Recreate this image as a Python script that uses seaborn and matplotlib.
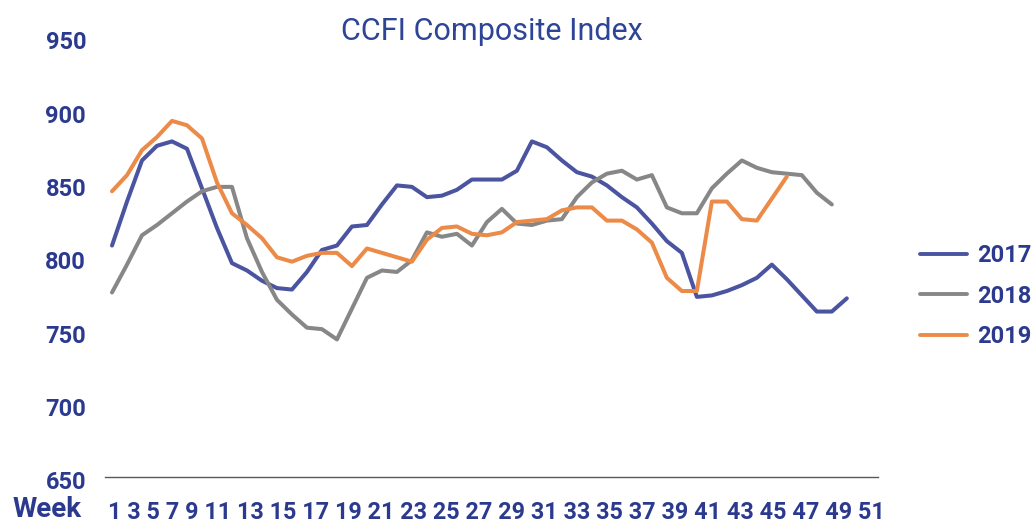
import numpy as np
import pandas as pd
import matplotlib
matplotlib.use('Agg')
import matplotlib.pyplot as plt
import matplotlib.transforms as mtransforms
import seaborn as sns

# CCFI composite index by week
idx_2017 = [808, 838, 866, 876, 879, 874, 847, 820, 796, 791,
            784, 779, 778, 790, 805, 808, 821, 822, 836, 849,
            848, 841, 842, 846, 853, 853, 853, 859, 879, 875,
            866, 858, 855, 849, 841, 834, 823, 811, 803, 773,
            774, 777, 781, 786, 795, 785, 774, 763, 763, 772]
idx_2018 = [776, 795, 815, 822, 830, 838, 845, 848, 848, 813,
            790, 771, 761, 752, 751, 744, 765, 786, 791, 790,
            798, 817, 814, 816, 808, 824, 833, 823, 822, 825,
            826, 841, 851, 857, 859, 853, 856, 834, 830, 830,
            847, 857, 866, 861, 858, 857, 856, 844, 836]
idx_2019 = [845, 856, 873, 882, 893, 890, 881, 851, 830, 822,
            813, 800, 797, 801, 803, 803, 794, 806, 803, 800,
            797, 812, 820, 821, 816, 815, 817, 824, 825, 826,
            832, 834, 834, 825, 825, 819, 810, 786, 777, 777,
            838, 838, 826, 825, 840, 855]

years = ['2017', '2018', '2019']
series = [idx_2017, idx_2018, idx_2019]
colors = ['#4A54A0', '#878787', '#EC8A48']
week_labels = list(range(1, 52, 2))
y_ticks = list(range(650, 951, 50))

TEXT_BLUE = '#2B3A8E'

frames = []
for yr, vals in zip(years, series):
    frames.append(pd.DataFrame({'week': np.arange(1, len(vals) + 1),
                                'index': vals, 'year': yr}))
df = pd.concat(frames, ignore_index=True)

sns.set_theme(style='white')
plt.rcParams['font.family'] = ['Roboto', 'DejaVu Sans']

fig = plt.figure(figsize=(10.34, 5.27), dpi=100)
ax = fig.add_axes([0.1015, 0.0943, 0.7475, 0.835])

sns.lineplot(data=df, x='week', y='index', hue='year', hue_order=years,
             palette=colors, linewidth=2.9, estimator=None, ax=ax)

ax.set_xlim(0.53, 52.07)
ax.set_ylim(650, 950)
ax.set_yticks(y_ticks)
ax.set_xticks([])
ax.set_xlabel('')
ax.set_ylabel('')
ax.tick_params(axis='y', length=0, pad=13.5, labelsize=17, labelcolor=TEXT_BLUE)
# tick labels sit a few pixels below their value in the original
shift = mtransforms.ScaledTranslation(0, -0.03, fig.dpi_scale_trans)
for lbl in ax.get_yticklabels():
    lbl.set_fontweight('bold')
    lbl.set_transform(lbl.get_transform() + shift)

for side in ['top', 'right', 'left']:
    ax.spines[side].set_visible(False)
ax.spines['bottom'].set_color('#595959')
ax.spines['bottom'].set_linewidth(1.0)

sns.move_legend(ax, 'center left', bbox_to_anchor=(1.054, 0.412), frameon=False,
                title=None, fontsize=17, handlelength=2.0, handletextpad=0.45,
                labelspacing=0.74, borderpad=0, borderaxespad=0)
for txt in ax.get_legend().get_texts():
    txt.set_color(TEXT_BLUE)
    txt.set_fontweight('bold')
for ln in ax.get_legend().get_lines():
    ln.set_linewidth(2.8)

fig.text(0.476, 0.94, 'CCFI Composite Index', ha='center', va='center',
         fontsize=22, color='#2E4496')
fig.text(0.0126, 0.033, 'Week', ha='left', va='center', fontsize=20,
         fontweight='bold', color=TEXT_BLUE)
fig.text(0.1044, 0.028, ' '.join(str(w) for w in week_labels), ha='left',
         va='center', fontsize=16.8, fontweight='bold', color=TEXT_BLUE)

plt.savefig('out.png', dpi=100, facecolor='white')
plt.close()
